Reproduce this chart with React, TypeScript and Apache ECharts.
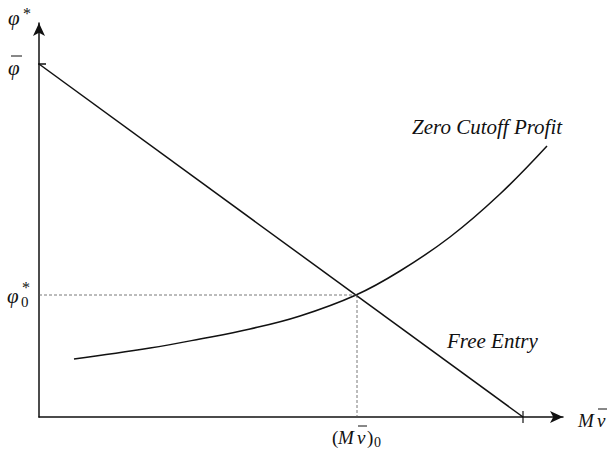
import React, { useEffect, useRef } from "react";
import * as echarts from "echarts";

const xMax = 524;
const yMax = 394;
const freeEntryX = [0, 484];
const freeEntryY = [353, 0];
const cutoffX = [35, 111, 161, 211, 261, 317, 361, 411, 461, 508];
const cutoffY = [58, 69, 78, 88, 101, 122, 146, 180, 223, 271];
const equilibrium = [318, 122];
const phiBarValue = 353;
const xTickValue = 484;

const FONT = "'Liberation Serif', 'DejaVu Serif', serif";

export default function App() {
  const ref = useRef<HTMLDivElement>(null);
  useEffect(() => {
    document.body.style.margin = "0";
    if (!ref.current) return;
    const chart = echarts.init(ref.current, null, { renderer: "svg" });
    const lineStyle = { color: "#111", width: 1.5 };
    const dashStyle = { color: "#555", width: 0.8, type: [3, 2] as any };
    chart.setOption({
      animation: false,
      backgroundColor: "#fff",
      grid: { left: 39, right: 48, top: 23, bottom: 34 },
      xAxis: {
        type: "value",
        min: 0,
        max: xMax,
        splitLine: { show: false },
        axisTick: { show: false },
        axisLabel: { show: false },
        axisLine: {
          show: true,
          symbol: ["none", "arrow"],
          symbolSize: [9, 13],
          lineStyle: { color: "#111", width: 1.5 },
        },
      },
      yAxis: {
        type: "value",
        min: 0,
        max: yMax,
        splitLine: { show: false },
        axisTick: { show: false },
        axisLabel: { show: false },
        axisLine: {
          show: true,
          symbol: ["none", "arrow"],
          symbolSize: [9, 13],
          lineStyle: { color: "#111", width: 1.5 },
        },
      },
      series: [
        {
          type: "line",
          data: freeEntryX.map((x, i) => [x, freeEntryY[i]]),
          symbol: "none",
          lineStyle,
          clip: false,
        },
        {
          type: "line",
          data: cutoffX.map((x, i) => [x, cutoffY[i]]),
          symbol: "none",
          smooth: 0.4,
          lineStyle,
          clip: false,
        },
        {
          type: "line",
          data: [[0, equilibrium[1]], [equilibrium[0], equilibrium[1]]],
          symbol: "none",
          lineStyle: dashStyle,
        },
        {
          type: "line",
          data: [[equilibrium[0], equilibrium[1]], [equilibrium[0], 0]],
          symbol: "none",
          lineStyle: dashStyle,
        },
        {
          type: "line",
          data: [[-5, phiBarValue], [7, phiBarValue]],
          symbol: "none",
          lineStyle: { color: "#111", width: 1.5 },
          clip: false,
        },
        {
          type: "line",
          data: [[xTickValue, -6], [xTickValue, 6]],
          symbol: "none",
          lineStyle: { color: "#111", width: 1.2 },
          clip: false,
        },
      ],
    });

    const p = (x: number, y: number) =>
      chart.convertToPixel({ gridIndex: 0 }, [x, y]) as number[];
    const origin = p(0, 0);
    const top = p(0, yMax);
    const right = p(xMax, 0);
    const phiBar = p(0, phiBarValue);
    const eq = p(equilibrium[0], equilibrium[1]);
    const cutEnd = p(cutoffX[cutoffX.length - 1], cutoffY[cutoffY.length - 1]);

    const txt = (x: number, y: number, text: string, size: number, italic = true) => ({
      type: "text",
      x,
      y,
      style: {
        text,
        font: `${italic ? "italic " : ""}${size}px ${FONT}`,
        fill: "#111",
        textAlign: "left",
        textVerticalAlign: "middle",
      },
    });
    const bar = (x1: number, x2: number, y: number) => ({
      type: "line",
      shape: { x1, y1: y, x2, y2: y },
      style: { stroke: "#111", lineWidth: 1 },
    });

    chart.setOption({
      graphic: [
        // y axis name phi*
        txt(top[0] - 31, top[1] - 5, "φ", 21),
        txt(top[0] - 16, top[1] - 10, "*", 16, false),
        // phi bar
        txt(phiBar[0] - 31, phiBar[1] + 4, "φ", 21),
        bar(phiBar[0] - 28, phiBar[0] - 17, phiBar[1] - 8),
        // phi0*
        txt(origin[0] - 32, eq[1] + 1, "φ", 21),
        txt(origin[0] - 17, eq[1] - 8, "*", 16, false),
        txt(origin[0] - 18, eq[1] + 7, "0", 15, false),
        // x axis name M v-bar
        txt(right[0] + 15, origin[1] + 3, "M", 19),
        txt(right[0] + 34, origin[1] + 3, "v", 19),
        bar(right[0] + 35, right[0] + 44, origin[1] - 8),
        // (M v-bar)_0
        txt(eq[0] - 25, origin[1] + 20, "(", 19, false),
        txt(eq[0] - 19, origin[1] + 20, "M", 19),
        txt(eq[0] + 0, origin[1] + 20, "v", 19),
        bar(eq[0] + 1, eq[0] + 10, origin[1] + 9),
        txt(eq[0] + 10, origin[1] + 20, ")", 19, false),
        txt(eq[0] + 17, origin[1] + 25, "0", 14, false),
        // curve labels
        txt(cutEnd[0] - 135, cutEnd[1] - 19, "Zero Cutoff Profit", 21),
        txt(origin[0] + 408, eq[1] + 46, "Free Entry", 21),
      ],
    });

    return () => chart.dispose();
  }, []);
  return <div ref={ref} style={{ width: 611, height: 451 }} />;
}
